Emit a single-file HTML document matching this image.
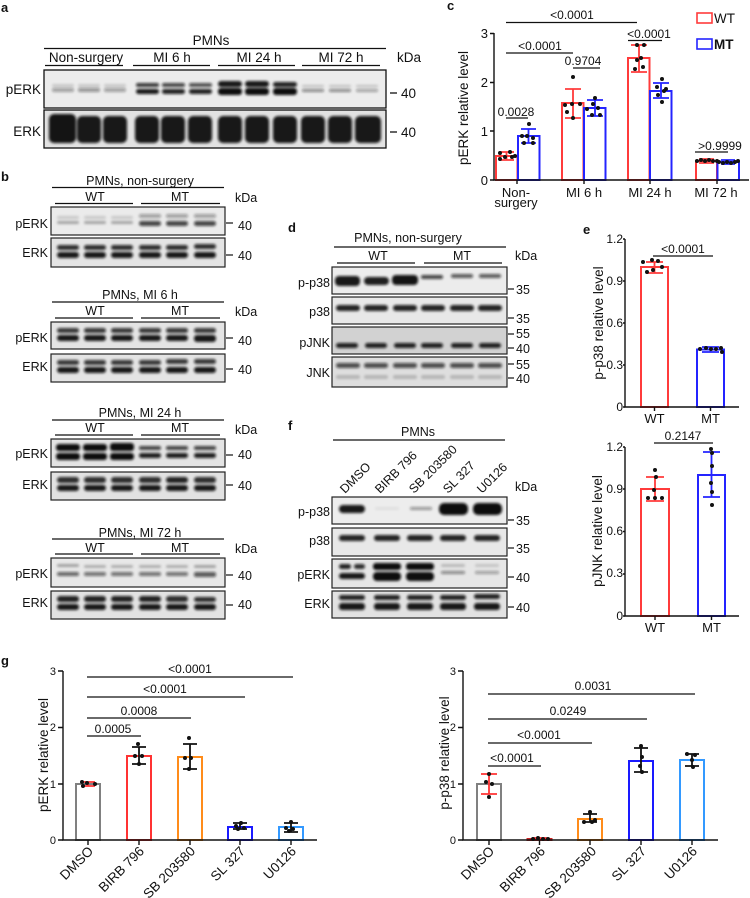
<!DOCTYPE html>
<html><head><meta charset="utf-8"><style>
html,body{margin:0;padding:0;background:#fff;}
svg{display:block;}
text{font-family:"Liberation Sans",Arial,sans-serif;fill:#111;}
</style></head><body>
<svg width="750" height="898" viewBox="0 0 750 898" xmlns="http://www.w3.org/2000/svg">
<defs>
<filter id="b" x="-30%" y="-80%" width="160%" height="260%"><feGaussianBlur stdDeviation="1.2"/></filter>
</defs>

<!-- ================= PANEL A ================= -->
<text x="1" y="12" font-size="13" font-weight="bold">a</text>
<text x="211" y="45" font-size="13.5" text-anchor="middle">PMNs</text>
<line x1="44" y1="48.5" x2="386" y2="48.5" stroke="#111" stroke-width="1.3"/>
<text x="86" y="62" font-size="13.5" text-anchor="middle">Non-surgery</text>
<text x="172" y="62" font-size="13.5" text-anchor="middle">MI 6 h</text>
<text x="259" y="62" font-size="13.5" text-anchor="middle">MI 24 h</text>
<text x="341" y="62" font-size="13.5" text-anchor="middle">MI 72 h</text>
<g stroke="#111" stroke-width="1.2">
<line x1="45" y1="65.5" x2="123" y2="65.5"/><line x1="133" y1="65.5" x2="210" y2="65.5"/>
<line x1="218" y1="65.5" x2="295" y2="65.5"/><line x1="302" y1="65.5" x2="380" y2="65.5"/>
</g>
<text x="397" y="62" font-size="13.5">kDa</text>
<text x="41" y="94" font-size="13.5" text-anchor="end">pERK</text>
<text x="41" y="136" font-size="13.5" text-anchor="end">ERK</text>
<rect x="44" y="70" width="342" height="38" fill="#ececec" stroke="#111" stroke-width="1.3"/>
<rect x="44" y="110" width="342" height="38" fill="#e2e2e2" stroke="#111" stroke-width="1.3"/>
<g fill="#111" filter="url(#b)">
<rect x="52" y="84" width="22" height="3" rx="1.5" opacity=".15"/><rect x="78" y="84" width="22" height="3" rx="1.5" opacity=".15"/><rect x="104" y="84" width="22" height="3" rx="1.5" opacity=".15"/>
<rect x="52" y="88" width="22" height="4" rx="2" opacity=".35"/><rect x="78" y="88" width="22" height="4" rx="2" opacity=".4"/><rect x="104" y="88" width="22" height="4" rx="2" opacity=".35"/>
<rect x="136" y="83" width="23" height="4" rx="2" opacity=".8"/><rect x="162" y="83" width="23" height="4" rx="2" opacity=".75"/><rect x="189" y="83" width="23" height="4" rx="2" opacity=".7"/>
<rect x="136" y="89" width="23" height="5" rx="2.5" opacity=".95"/><rect x="162" y="89" width="23" height="5" rx="2.5" opacity=".9"/><rect x="189" y="89" width="23" height="5" rx="2.5" opacity=".9"/>
<rect x="218" y="81" width="24" height="6" rx="3" opacity=".95"/><rect x="245" y="81" width="24" height="6" rx="3" opacity=".95"/><rect x="273" y="82" width="24" height="5" rx="2.5" opacity=".9"/>
<rect x="218" y="88" width="24" height="7" rx="3" /><rect x="245" y="88" width="24" height="7" rx="3"/><rect x="273" y="88" width="24" height="7" rx="3"/>
<rect x="302" y="85" width="22" height="2" rx="1" opacity=".2"/><rect x="329" y="85" width="22" height="2" rx="1" opacity=".2"/><rect x="356" y="85" width="22" height="2" rx="1" opacity=".2"/>
<rect x="302" y="89" width="22" height="3" rx="1.5" opacity=".45"/><rect x="329" y="89" width="22" height="3" rx="1.5" opacity=".45"/><rect x="356" y="89" width="22" height="3" rx="1.5" opacity=".35"/>
<rect x="49" y="114" width="27" height="29" rx="5" opacity=".97"/><rect x="77" y="116" width="24" height="27" rx="5" opacity=".95"/><rect x="103" y="116" width="24" height="27" rx="5" opacity=".95"/>
<rect x="135" y="116" width="24" height="27" rx="5" opacity=".95"/><rect x="161" y="116" width="24" height="27" rx="5" opacity=".95"/><rect x="188" y="116" width="24" height="27" rx="5" opacity=".95"/>
<rect x="218" y="116" width="24" height="27" rx="5" opacity=".95"/><rect x="245" y="116" width="24" height="27" rx="5" opacity=".95"/><rect x="273" y="116" width="24" height="27" rx="5" opacity=".95"/>
<rect x="301" y="116" width="24" height="27" rx="5" opacity=".95"/><rect x="328" y="116" width="24" height="27" rx="5" opacity=".95"/><rect x="355" y="116" width="26" height="27" rx="5" opacity=".95"/>
</g>
<line x1="390" y1="93" x2="397" y2="93" stroke="#111" stroke-width="1.3"/>
<line x1="390" y1="132" x2="397" y2="132" stroke="#111" stroke-width="1.3"/>
<text x="401" y="98" font-size="13.5">40</text>
<text x="401" y="137" font-size="13.5">40</text>

<!-- ================= PANEL B ================= -->
<text x="1" y="181" font-size="13" font-weight="bold">b</text>
<g font-size="12.5">
<text x="140" y="185" text-anchor="middle">PMNs, non-surgery</text>
<text x="95" y="201" text-anchor="middle">WT</text><text x="180" y="201" text-anchor="middle">MT</text>
<text x="235" y="202">kDa</text>
<text x="48" y="228" text-anchor="end">pERK</text><text x="48" y="257" text-anchor="end">ERK</text>
<text x="238" y="230">40</text><text x="238" y="260">40</text>
<text x="140" y="299" text-anchor="middle">PMNs, MI 6 h</text>
<text x="95" y="315" text-anchor="middle">WT</text><text x="180" y="315" text-anchor="middle">MT</text>
<text x="235" y="316">kDa</text>
<text x="48" y="342" text-anchor="end">pERK</text><text x="48" y="371" text-anchor="end">ERK</text>
<text x="238" y="345">40</text><text x="238" y="374">40</text>
<text x="140" y="417" text-anchor="middle">PMNs, MI 24 h</text>
<text x="95" y="432" text-anchor="middle">WT</text><text x="180" y="432" text-anchor="middle">MT</text>
<text x="235" y="434">kDa</text>
<text x="48" y="458" text-anchor="end">pERK</text><text x="48" y="489" text-anchor="end">ERK</text>
<text x="238" y="459">40</text><text x="238" y="490">40</text>
<text x="140" y="537" text-anchor="middle">PMNs, MI 72 h</text>
<text x="95" y="552" text-anchor="middle">WT</text><text x="180" y="552" text-anchor="middle">MT</text>
<text x="235" y="553">kDa</text>
<text x="48" y="578" text-anchor="end">pERK</text><text x="48" y="607" text-anchor="end">ERK</text>
<text x="238" y="580">40</text><text x="238" y="609">40</text>
</g>
<g stroke="#111" stroke-width="1.2">
<line x1="52" y1="187.5" x2="224" y2="187.5"/><line x1="55" y1="203.5" x2="133" y2="203.5"/><line x1="141" y1="203.5" x2="220" y2="203.5"/>
<line x1="52" y1="302" x2="224" y2="302"/><line x1="55" y1="318" x2="133" y2="318"/><line x1="141" y1="318" x2="220" y2="318"/>
<line x1="52" y1="420" x2="224" y2="420"/><line x1="55" y1="435" x2="133" y2="435"/><line x1="141" y1="435" x2="220" y2="435"/>
<line x1="52" y1="539" x2="224" y2="539"/><line x1="55" y1="554" x2="133" y2="554"/><line x1="141" y1="554" x2="220" y2="554"/>
<line x1="226" y1="223" x2="233" y2="223"/><line x1="226" y1="255" x2="233" y2="255"/>
<line x1="226" y1="338" x2="233" y2="338"/><line x1="226" y1="369" x2="233" y2="369"/>
<line x1="226" y1="455" x2="233" y2="455"/><line x1="226" y1="485" x2="233" y2="485"/>
<line x1="226" y1="575" x2="233" y2="575"/><line x1="226" y1="605" x2="233" y2="605"/>
</g>
<g stroke="#222" stroke-width="1.2">
<rect x="51" y="207" width="174" height="28" fill="#ebebeb"/>
<rect x="51" y="238" width="174" height="29" fill="#e4e4e4"/>
<rect x="51" y="322" width="174" height="27" fill="#e4e4e4"/>
<rect x="51" y="354" width="174" height="28" fill="#e4e4e4"/>
<rect x="51" y="439" width="174" height="28" fill="#e4e4e4"/>
<rect x="51" y="472" width="174" height="28" fill="#e2e2e2"/>
<rect x="51" y="558" width="174" height="29" fill="#e8e8e8"/>
<rect x="51" y="591" width="174" height="28" fill="#e2e2e2"/>
</g>
<g fill="#111" filter="url(#b)">
<rect x="57" y="216" width="22" height="3" rx="1.5" opacity=".15"/><rect x="84" y="216" width="22" height="3" rx="1.5" opacity=".15"/><rect x="111" y="216" width="22" height="3" rx="1.5" opacity=".15"/>
<rect x="57" y="221" width="22" height="3" rx="1.5" opacity=".3"/><rect x="84" y="221" width="22" height="3" rx="1.5" opacity=".3"/><rect x="111" y="221" width="22" height="3" rx="1.5" opacity=".3"/>
<rect x="139" y="214" width="22" height="4" rx="2" opacity=".35"/><rect x="166" y="214" width="22" height="4" rx="2" opacity=".35"/><rect x="194" y="214" width="22" height="4" rx="2" opacity=".35"/>
<rect x="139" y="221" width="22" height="5" rx="2.5" opacity=".75"/><rect x="166" y="221" width="22" height="5" rx="2.5" opacity=".75"/><rect x="194" y="221" width="22" height="5" rx="2.5" opacity=".75"/>
<rect x="57" y="245" width="22" height="5" rx="2.5" opacity=".85"/><rect x="84" y="245" width="22" height="5" rx="2.5" opacity=".85"/><rect x="111" y="245" width="22" height="5" rx="2.5" opacity=".85"/>
<rect x="139" y="245" width="22" height="5" rx="2.5" opacity=".85"/><rect x="166" y="245" width="22" height="5" rx="2.5" opacity=".85"/><rect x="194" y="244" width="22" height="5" rx="2.5" opacity=".85"/>
<rect x="57" y="252" width="22" height="6" rx="3" opacity=".95"/><rect x="84" y="252" width="22" height="6" rx="3" opacity=".95"/><rect x="111" y="252" width="22" height="6" rx="3" opacity=".95"/>
<rect x="139" y="252" width="22" height="6" rx="3" opacity=".95"/><rect x="166" y="252" width="22" height="6" rx="3" opacity=".95"/><rect x="194" y="252" width="22" height="6" rx="3" opacity=".95"/>
<rect x="57" y="328" width="22" height="5" rx="2.5" opacity=".8"/><rect x="84" y="328" width="22" height="5" rx="2.5" opacity=".8"/><rect x="111" y="328" width="22" height="5" rx="2.5" opacity=".8"/>
<rect x="139" y="328" width="22" height="5" rx="2.5" opacity=".8"/><rect x="166" y="328" width="22" height="5" rx="2.5" opacity=".8"/><rect x="194" y="328" width="22" height="5" rx="2.5" opacity=".8"/>
<rect x="57" y="335" width="22" height="6" rx="3" opacity=".95"/><rect x="84" y="335" width="22" height="6" rx="3" opacity=".95"/><rect x="111" y="335" width="22" height="6" rx="3" opacity=".95"/>
<rect x="139" y="335" width="22" height="6" rx="3" opacity=".95"/><rect x="166" y="335" width="22" height="6" rx="3" opacity=".95"/><rect x="194" y="335" width="22" height="7" rx="3" opacity=".95"/>
<rect x="57" y="360" width="22" height="5" rx="2.5" opacity=".8"/><rect x="84" y="360" width="22" height="5" rx="2.5" opacity=".8"/><rect x="111" y="360" width="22" height="5" rx="2.5" opacity=".8"/>
<rect x="139" y="360" width="22" height="5" rx="2.5" opacity=".8"/><rect x="166" y="359" width="22" height="5" rx="2.5" opacity=".8"/><rect x="194" y="359" width="22" height="5" rx="2.5" opacity=".8"/>
<rect x="57" y="367" width="22" height="6" rx="3" opacity=".95"/><rect x="84" y="367" width="22" height="6" rx="3" opacity=".95"/><rect x="111" y="367" width="22" height="6" rx="3" opacity=".95"/>
<rect x="139" y="367" width="22" height="6" rx="3" opacity=".95"/><rect x="166" y="367" width="22" height="6" rx="3" opacity=".95"/><rect x="194" y="367" width="22" height="6" rx="3" opacity=".95"/>
<rect x="56" y="444" width="24" height="7" rx="3" /><rect x="83" y="444" width="24" height="7" rx="3"/><rect x="110" y="443" width="24" height="8" rx="3"/>
<rect x="56" y="453" width="24" height="7" rx="3" /><rect x="83" y="453" width="24" height="7" rx="3"/><rect x="110" y="453" width="24" height="7" rx="3"/>
<rect x="139" y="446" width="22" height="4" rx="2" opacity=".75"/><rect x="166" y="446" width="22" height="4" rx="2" opacity=".75"/><rect x="194" y="446" width="22" height="4" rx="2" opacity=".75"/>
<rect x="139" y="453" width="22" height="5" rx="2.5" opacity=".92"/><rect x="166" y="453" width="22" height="5" rx="2.5" opacity=".92"/><rect x="194" y="453" width="22" height="5" rx="2.5" opacity=".92"/>
<rect x="57" y="477" width="22" height="6" rx="3" opacity=".85"/><rect x="84" y="477" width="22" height="6" rx="3" opacity=".85"/><rect x="111" y="477" width="22" height="6" rx="3" opacity=".85"/>
<rect x="139" y="477" width="22" height="6" rx="3" opacity=".85"/><rect x="166" y="477" width="22" height="6" rx="3" opacity=".9"/><rect x="194" y="477" width="22" height="6" rx="3" opacity=".85"/>
<rect x="57" y="485" width="22" height="6" rx="3" opacity=".95"/><rect x="84" y="485" width="22" height="6" rx="3" opacity=".95"/><rect x="111" y="485" width="22" height="6" rx="3" opacity=".95"/>
<rect x="139" y="485" width="22" height="6" rx="3" opacity=".95"/><rect x="166" y="485" width="22" height="6" rx="3" opacity=".95"/><rect x="194" y="485" width="22" height="6" rx="3" opacity=".95"/>
<rect x="57" y="564" width="22" height="3" rx="1.5" opacity=".3"/><rect x="84" y="565" width="22" height="3" rx="1.5" opacity=".25"/><rect x="111" y="565" width="22" height="3" rx="1.5" opacity=".25"/>
<rect x="139" y="565" width="22" height="3" rx="1.5" opacity=".25"/><rect x="166" y="565" width="22" height="3" rx="1.5" opacity=".25"/><rect x="194" y="565" width="22" height="3" rx="1.5" opacity=".3"/>
<rect x="57" y="572" width="22" height="4" rx="2" opacity=".6"/><rect x="84" y="572" width="22" height="4" rx="2" opacity=".55"/><rect x="111" y="572" width="22" height="4" rx="2" opacity=".55"/>
<rect x="139" y="572" width="22" height="4" rx="2" opacity=".55"/><rect x="166" y="572" width="22" height="4" rx="2" opacity=".55"/><rect x="194" y="572" width="22" height="5" rx="2" opacity=".65"/>
<rect x="57" y="596" width="22" height="6" rx="3" opacity=".9"/><rect x="84" y="596" width="22" height="6" rx="3" opacity=".9"/><rect x="111" y="596" width="22" height="6" rx="3" opacity=".9"/>
<rect x="139" y="596" width="22" height="6" rx="3" opacity=".9"/><rect x="166" y="596" width="22" height="6" rx="3" opacity=".85"/><rect x="194" y="597" width="22" height="5" rx="3" opacity=".85"/>
<rect x="57" y="604" width="22" height="6" rx="3" opacity=".95"/><rect x="84" y="604" width="22" height="6" rx="3" opacity=".95"/><rect x="111" y="604" width="22" height="6" rx="3" opacity=".95"/>
<rect x="139" y="604" width="22" height="6" rx="3" opacity=".95"/><rect x="166" y="604" width="22" height="6" rx="3" opacity=".95"/><rect x="194" y="604" width="22" height="6" rx="3" opacity=".95"/>
</g>

<!-- ================= PANEL D ================= -->
<text x="288" y="232" font-size="13" font-weight="bold">d</text>
<g font-size="12.5">
<text x="408" y="242" text-anchor="middle">PMNs, non-surgery</text>
<text x="378" y="260" text-anchor="middle">WT</text><text x="462" y="260" text-anchor="middle">MT</text>
<text x="515" y="260">kDa</text>
<text x="330" y="287" text-anchor="end">p-p38</text>
<text x="330" y="316" text-anchor="end">p38</text>
<text x="330" y="347" text-anchor="end">pJNK</text>
<text x="330" y="377" text-anchor="end">JNK</text>
<text x="516" y="294">35</text><text x="516" y="323">35</text>
<text x="516" y="338">55</text><text x="516" y="353">40</text>
<text x="516" y="369">55</text><text x="516" y="383">40</text>
</g>
<g stroke="#111" stroke-width="1.2">
<line x1="334" y1="247" x2="506" y2="247"/><line x1="337" y1="263" x2="415" y2="263"/><line x1="424" y1="263" x2="502" y2="263"/>
<line x1="508" y1="289" x2="514" y2="289"/><line x1="508" y1="318" x2="514" y2="318"/>
<line x1="508" y1="334" x2="514" y2="334"/><line x1="508" y1="348" x2="514" y2="348"/>
<line x1="508" y1="364" x2="514" y2="364"/><line x1="508" y1="378" x2="514" y2="378"/>
</g>
<g stroke="#222" stroke-width="1.2">
<rect x="332" y="267" width="175" height="27" fill="#ececec"/>
<rect x="332" y="297" width="175" height="27" fill="#e8e8e8"/>
<rect x="332" y="327" width="175" height="27" fill="#d2d2d2"/>
<rect x="332" y="357" width="175" height="30" fill="#dedede"/>
</g>
<g fill="#111" filter="url(#b)">
<rect x="335" y="276" width="25" height="10" rx="4" opacity=".95"/><rect x="364" y="277" width="25" height="8" rx="4" opacity=".92"/><rect x="392" y="275" width="26" height="10" rx="4" opacity=".97"/>
<rect x="421" y="275" width="22" height="4" rx="2" opacity=".75"/><rect x="451" y="274" width="22" height="4" rx="2" opacity=".65"/><rect x="479" y="274" width="22" height="4" rx="2" opacity=".65"/>
<rect x="336" y="305" width="24" height="6" rx="3" opacity=".9"/><rect x="364" y="305" width="24" height="6" rx="3" opacity=".9"/><rect x="393" y="305" width="24" height="6" rx="3" opacity=".9"/>
<rect x="421" y="305" width="24" height="6" rx="3" opacity=".9"/><rect x="450" y="305" width="24" height="6" rx="3" opacity=".9"/><rect x="478" y="305" width="24" height="6" rx="3" opacity=".9"/>
<rect x="336" y="343" width="22" height="5" rx="2.5" opacity=".9"/><rect x="365" y="343" width="22" height="5" rx="2.5" opacity=".9"/><rect x="394" y="343" width="22" height="5" rx="2.5" opacity=".9"/>
<rect x="421" y="343" width="22" height="5" rx="2.5" opacity=".9"/><rect x="451" y="343" width="22" height="5" rx="2.5" opacity=".9"/><rect x="479" y="343" width="22" height="5" rx="2.5" opacity=".9"/>
<rect x="336" y="363" width="24" height="5" rx="2.5" opacity=".7"/><rect x="364" y="363" width="24" height="5" rx="2.5" opacity=".7"/><rect x="393" y="363" width="24" height="5" rx="2.5" opacity=".7"/>
<rect x="421" y="363" width="24" height="5" rx="2.5" opacity=".7"/><rect x="450" y="363" width="24" height="5" rx="2.5" opacity=".7"/><rect x="478" y="363" width="24" height="5" rx="2.5" opacity=".7"/>
<rect x="336" y="375" width="24" height="4" rx="2" opacity=".18"/><rect x="364" y="375" width="24" height="4" rx="2" opacity=".18"/><rect x="393" y="375" width="24" height="4" rx="2" opacity=".18"/>
<rect x="421" y="375" width="24" height="4" rx="2" opacity=".18"/><rect x="450" y="375" width="24" height="4" rx="2" opacity=".18"/><rect x="478" y="375" width="24" height="4" rx="2" opacity=".18"/>
</g>

<!-- ================= PANEL F ================= -->
<text x="288" y="430" font-size="13" font-weight="bold">f</text>
<g font-size="12.5">
<text x="418" y="436" text-anchor="middle">PMNs</text>
<text transform="translate(345,494) rotate(-45)">DMSO</text>
<text transform="translate(380,494) rotate(-45)">BIRB 796</text>
<text transform="translate(414,494) rotate(-45)">SB 203580</text>
<text transform="translate(448,494) rotate(-45)">SL 327</text>
<text transform="translate(482,494) rotate(-45)">U0126</text>
<text x="515" y="491">kDa</text>
<text x="330" y="516" text-anchor="end">p-p38</text>
<text x="330" y="545" text-anchor="end">p38</text>
<text x="330" y="579" text-anchor="end">pERK</text>
<text x="330" y="608" text-anchor="end">ERK</text>
<text x="516" y="525">35</text><text x="516" y="553">35</text>
<text x="516" y="582">40</text><text x="516" y="612">40</text>
</g>
<g stroke="#111" stroke-width="1.2">
<line x1="333" y1="440" x2="505" y2="440"/>
<line x1="508" y1="520" x2="514" y2="520"/><line x1="508" y1="548" x2="514" y2="548"/>
<line x1="508" y1="577" x2="514" y2="577"/><line x1="508" y1="607" x2="514" y2="607"/>
</g>
<g stroke="#222" stroke-width="1.2">
<rect x="332" y="497" width="175" height="27" fill="#ededed"/>
<rect x="332" y="528" width="175" height="28" fill="#e8e8e8"/>
<rect x="332" y="559" width="175" height="29" fill="#e6e6e6"/>
<rect x="332" y="591" width="175" height="27" fill="#e2e2e2"/>
</g>
<g fill="#111" filter="url(#b)">
<rect x="339" y="505" width="26" height="8" rx="4" opacity=".95"/>
<rect x="375" y="507" width="24" height="3" rx="1.5" opacity=".06"/>
<rect x="410" y="507" width="22" height="3" rx="1.5" opacity=".4"/>
<rect x="439" y="503" width="29" height="12" rx="5"/>
<rect x="473" y="503" width="29" height="12" rx="5"/>
<rect x="339" y="535" width="26" height="6" rx="3" opacity=".9"/><rect x="374" y="535" width="26" height="6" rx="3" opacity=".9"/><rect x="407" y="535" width="26" height="6" rx="3" opacity=".9"/>
<rect x="440" y="535" width="26" height="6" rx="3" opacity=".9"/><rect x="474" y="535" width="26" height="6" rx="3" opacity=".9"/>
<rect x="339" y="564" width="12" height="5" rx="2.5" opacity=".9"/><rect x="354" y="564" width="11" height="5" rx="2.5" opacity=".85"/>
<rect x="339" y="573" width="26" height="6" rx="3" opacity=".95"/>
<rect x="373" y="563" width="28" height="7" rx="3"/><rect x="373" y="572" width="28" height="9" rx="4"/>
<rect x="406" y="563" width="28" height="7" rx="3"/><rect x="406" y="572" width="28" height="9" rx="4"/>
<rect x="441" y="564" width="24" height="3" rx="1.5" opacity=".2"/><rect x="441" y="571" width="24" height="3" rx="1.5" opacity=".45"/>
<rect x="475" y="564" width="24" height="3" rx="1.5" opacity=".15"/><rect x="475" y="571" width="24" height="3" rx="1.5" opacity=".35"/>
<rect x="339" y="595" width="26" height="5" rx="2.5" opacity=".9"/><rect x="374" y="595" width="26" height="5" rx="2.5" opacity=".9"/><rect x="407" y="595" width="26" height="5" rx="2.5" opacity=".9"/>
<rect x="440" y="595" width="26" height="5" rx="2.5" opacity=".9"/><rect x="474" y="594" width="26" height="5" rx="2.5" opacity=".9"/>
<rect x="339" y="603" width="26" height="7" rx="3" opacity=".95"/><rect x="374" y="603" width="26" height="7" rx="3" opacity=".95"/><rect x="407" y="603" width="26" height="7" rx="3" opacity=".95"/>
<rect x="440" y="603" width="26" height="7" rx="3" opacity=".95"/><rect x="474" y="603" width="26" height="7" rx="3" opacity=".95"/>
</g>

<!-- ================= PANEL C ================= -->
<text x="447" y="10" font-size="13" font-weight="bold">c</text>
<g font-size="13">
<text x="488" y="38" text-anchor="end">3</text>
<text x="488" y="87" text-anchor="end">2</text>
<text x="488" y="136" text-anchor="end">1</text>
<text x="488" y="185" text-anchor="end">0</text>
<text x="516" y="197" text-anchor="middle">Non-</text>
<text x="516" y="207" text-anchor="middle">surgery</text>
<text x="584" y="197" text-anchor="middle">MI 6 h</text>
<text x="650" y="197" text-anchor="middle">MI 24 h</text>
<text x="716" y="197" text-anchor="middle">MI 72 h</text>
</g>
<text transform="translate(468,108) rotate(-90)" font-size="13.5" text-anchor="middle">pERK relative level</text>
<g fill="#fff" stroke-width="2">
<rect x="496" y="156" width="21.5" height="24" stroke="#ff3b3b"/>
<rect x="518" y="136" width="21.5" height="44" stroke="#2424ff"/>
<rect x="562" y="103" width="21.5" height="77" stroke="#ff3b3b"/>
<rect x="584" y="108" width="21.5" height="72" stroke="#2424ff"/>
<rect x="628" y="58" width="21.5" height="122" stroke="#ff3b3b"/>
<rect x="650" y="91" width="21.5" height="89" stroke="#2424ff"/>
<rect x="696" y="161" width="21" height="19" stroke="#ff3b3b"/>
<rect x="717.5" y="162" width="21.5" height="18" stroke="#2424ff"/>
</g>
<g stroke-width="1.8" fill="none">
<path d="M506.5 152V160M499 152H514M499 160H514" stroke="#ff3b3b"/>
<path d="M528.5 129V143M521 129H536M521 143H536" stroke="#2424ff"/>
<path d="M573 89V118M565 89H581M565 118H581" stroke="#ff3b3b"/>
<path d="M595 100V116M587 100H603M587 116H603" stroke="#2424ff"/>
<path d="M639 45V72M631 45H647M631 72H647" stroke="#ff3b3b"/>
<path d="M661 83V98M653 83H669M653 98H669" stroke="#2424ff"/>
<path d="M706.5 159V163M699 159H714M699 163H714" stroke="#ff3b3b"/>
<path d="M728 160V164M721 160H735M721 164H735" stroke="#2424ff"/>
</g>
<g fill="#111">
<circle cx="500" cy="153" r="2"/><circle cx="510" cy="152" r="2"/><circle cx="500" cy="159" r="2"/><circle cx="505" cy="157" r="2"/><circle cx="512" cy="157" r="2"/><circle cx="515" cy="156" r="2"/>
<circle cx="529" cy="124" r="2"/><circle cx="522" cy="136" r="2"/><circle cx="527" cy="136" r="2"/><circle cx="533" cy="138" r="2"/><circle cx="524" cy="143" r="2"/><circle cx="533" cy="143" r="2"/>
<circle cx="573" cy="77" r="2"/><circle cx="565" cy="105" r="2"/><circle cx="572" cy="104" r="2"/><circle cx="580" cy="104" r="2"/><circle cx="573" cy="118" r="2"/><circle cx="567" cy="112" r="2"/>
<circle cx="595" cy="98" r="2"/><circle cx="587" cy="109" r="2"/><circle cx="598" cy="108" r="2"/><circle cx="592" cy="115" r="2"/><circle cx="600" cy="115" r="2"/><circle cx="593" cy="104" r="2"/>
<circle cx="637" cy="45" r="2"/><circle cx="644" cy="45" r="2"/><circle cx="637" cy="60" r="2"/><circle cx="641" cy="58" r="2"/><circle cx="643" cy="67" r="2"/><circle cx="635" cy="69" r="2"/>
<circle cx="662" cy="79" r="2"/><circle cx="657" cy="87" r="2"/><circle cx="664" cy="91" r="2"/><circle cx="658" cy="95" r="2"/><circle cx="662" cy="102" r="2"/><circle cx="666" cy="89" r="2"/>
<circle cx="697" cy="161" r="2"/><circle cx="701" cy="160" r="2"/><circle cx="705" cy="161" r="2"/><circle cx="709" cy="160" r="2"/><circle cx="713" cy="161" r="2"/><circle cx="717" cy="161" r="2"/>
<circle cx="719" cy="162" r="2"/><circle cx="723" cy="163" r="2"/><circle cx="727" cy="162" r="2"/><circle cx="731" cy="163" r="2"/><circle cx="735" cy="162" r="2"/><circle cx="738" cy="161" r="2"/>
</g>
<g stroke="#111" stroke-width="1.4" fill="none">
<path d="M494 33V180H749"/>
<path d="M490 33.5H494M490 82.5H494M490 131H494M490 180H494"/>
<path d="M517 180V184M584 180V184M650 180V184M717 180V184"/>
</g>
<g stroke="#111" stroke-width="1.3">
<line x1="506" y1="22.5" x2="637" y2="22.5"/>
<line x1="506" y1="53" x2="573" y2="53"/>
<line x1="573" y1="68" x2="600" y2="68"/>
<line x1="628" y1="40.5" x2="662" y2="40.5"/>
<line x1="506" y1="118" x2="528" y2="118"/>
<line x1="695" y1="152" x2="728" y2="152"/>
</g>
<g font-size="12" text-anchor="middle">
<text x="572" y="19">&lt;0.0001</text>
<text x="540" y="50">&lt;0.0001</text>
<text x="583" y="65">0.9704</text>
<text x="649" y="38">&lt;0.0001</text>
<text x="516" y="116">0.0028</text>
<text x="720" y="150">&gt;0.9999</text>
</g>
<rect x="697" y="13" width="15" height="10" fill="#fff" stroke="#ff3b3b" stroke-width="1.6"/>
<text x="714" y="23" font-size="13.5">WT</text>
<rect x="697" y="39" width="15" height="10" fill="#fff" stroke="#2424ff" stroke-width="1.6"/>
<text x="714" y="49" font-size="13.5" font-weight="bold">MT</text>

<!-- ================= PANEL E ================= -->
<text x="583" y="234" font-size="13" font-weight="bold">e</text>
<g font-size="12" text-anchor="end">
<text x="623" y="243">1.2</text><text x="623" y="285">0.9</text><text x="623" y="327">0.6</text><text x="623" y="369">0.3</text><text x="623" y="411">0</text>
<text x="623" y="451">1.2</text><text x="623" y="493">0.9</text><text x="623" y="535">0.6</text><text x="623" y="577">0.3</text><text x="623" y="620">0</text>
</g>
<g font-size="13" text-anchor="middle">
<text x="654.5" y="423">WT</text><text x="710.5" y="423">MT</text>
<text x="655" y="632">WT</text><text x="711.5" y="632">MT</text>
</g>
<text transform="translate(603,323) rotate(-90)" font-size="13.5" text-anchor="middle">p-p38 relative level</text>
<text transform="translate(602,531) rotate(-90)" font-size="13.5" text-anchor="middle">pJNK relative level</text>
<g fill="#fff" stroke-width="2">
<rect x="641" y="267" width="27" height="140" stroke="#ff3b3b"/>
<rect x="697" y="349.5" width="27" height="57.5" stroke="#2424ff"/>
<rect x="641" y="489" width="28" height="127" stroke="#ff3b3b"/>
<rect x="698" y="475" width="27" height="141" stroke="#2424ff"/>
</g>
<g stroke-width="1.8" fill="none">
<path d="M654.5 262V273M646 262H663M646 273H663" stroke="#ff3b3b"/>
<path d="M710.5 347V352M702 347H719M702 352H719" stroke="#2424ff"/>
<path d="M655 477V501M646 477H664M646 501H664" stroke="#ff3b3b"/>
<path d="M711.5 452V497M703 452H720M703 497H720" stroke="#2424ff"/>
</g>
<g fill="#111">
<circle cx="643" cy="262" r="2"/><circle cx="652" cy="260" r="2"/><circle cx="658" cy="261" r="2"/><circle cx="647" cy="272" r="2"/><circle cx="653" cy="270" r="2"/><circle cx="662" cy="267" r="2"/>
<circle cx="700" cy="349" r="2"/><circle cx="706" cy="348" r="2"/><circle cx="711" cy="349" r="2"/><circle cx="716" cy="349" r="2"/><circle cx="721" cy="348" r="2"/><circle cx="722" cy="352" r="2"/>
<circle cx="655" cy="470" r="2"/><circle cx="656" cy="477" r="2"/><circle cx="654" cy="490" r="2"/><circle cx="648" cy="498" r="2"/><circle cx="655" cy="498" r="2"/><circle cx="662" cy="498" r="2"/>
<circle cx="711" cy="449" r="2"/><circle cx="712" cy="453" r="2"/><circle cx="712" cy="466" r="2"/><circle cx="711" cy="483" r="2"/><circle cx="712" cy="492" r="2"/><circle cx="712" cy="505" r="2"/>
</g>
<g stroke="#111" stroke-width="1.4" fill="none">
<path d="M625 239V407H739"/>
<path d="M623 239H625M623 281H625M623 323H625M623 365H625M623 407H625"/>
<path d="M654.5 407V411M710.5 407V411"/>
<path d="M625 447V616H739"/>
<path d="M623 447H625M623 489H625M623 531.5H625M623 574H625M623 616H625"/>
<path d="M655 616V620M711.5 616V620"/>
</g>
<g stroke="#111" stroke-width="1.3">
<line x1="653" y1="256" x2="713" y2="256"/>
<line x1="654" y1="443" x2="713" y2="443"/>
</g>
<text x="683" y="253" font-size="12" text-anchor="middle">&lt;0.0001</text>
<text x="683" y="440" font-size="12" text-anchor="middle">0.2147</text>

<!-- ================= PANEL G ================= -->
<text x="1" y="665" font-size="13" font-weight="bold">g</text>
<g font-size="11" text-anchor="end">
<text x="56" y="675">3</text><text x="56" y="731">2</text><text x="56" y="788">1</text><text x="56" y="844">0</text>
<text x="456" y="675">3</text><text x="456" y="731">2</text><text x="456" y="788">1</text><text x="456" y="844">0</text>
</g>
<text transform="translate(48,755) rotate(-90)" font-size="13.5" text-anchor="middle">pERK relative level</text>
<text transform="translate(449,753) rotate(-90)" font-size="13.5" text-anchor="middle">p-p38 relative level</text>
<g font-size="13.5" text-anchor="end">
<text transform="translate(94,852) rotate(-45)">DMSO</text>
<text transform="translate(145,852) rotate(-45)">BIRB 796</text>
<text transform="translate(196,852) rotate(-45)">SB 203580</text>
<text transform="translate(246,852) rotate(-45)">SL 327</text>
<text transform="translate(297,852) rotate(-45)">U0126</text>
<text transform="translate(495,852) rotate(-45)">DMSO</text>
<text transform="translate(546,852) rotate(-45)">BIRB 796</text>
<text transform="translate(597,852) rotate(-45)">SB 203580</text>
<text transform="translate(647,852) rotate(-45)">SL 327</text>
<text transform="translate(698,852) rotate(-45)">U0126</text>
</g>
<g fill="#fff" stroke-width="2">
<rect x="76" y="784" width="24" height="56" stroke="#808080"/>
<rect x="127" y="756" width="24" height="84" stroke="#ff3333"/>
<rect x="178" y="757" width="24" height="83" stroke="#ff8c1a"/>
<rect x="228" y="827" width="24" height="13" stroke="#1a1aff"/>
<rect x="279" y="827" width="24" height="13" stroke="#3399ff"/>
<rect x="477" y="784" width="24" height="56" stroke="#808080"/>
<rect x="527.5" y="839" width="24" height="1" stroke="#cc2222"/>
<rect x="578" y="819" width="24" height="21" stroke="#ff8c1a"/>
<rect x="629" y="761" width="24" height="79" stroke="#1a1aff"/>
<rect x="680" y="760" width="24" height="80" stroke="#3399ff"/>
</g>
<g stroke-width="1.8" fill="none">
<path d="M88 782V786M81 782H95M81 786H95" stroke="#ff3333"/>
<path d="M139 747V764M132 747H146M132 764H146" stroke="#111"/>
<path d="M190 744V769M183 744H197M183 769H197" stroke="#111"/>
<path d="M240 823V829M233 823H247M233 829H247" stroke="#111"/>
<path d="M291 823V832M284 823H298M284 832H298" stroke="#111"/>
<path d="M489 774V794M481 774H497M481 794H497" stroke="#ff3333"/>
<path d="M539.5 838V840M532 838H547" stroke="#ff3333"/>
<path d="M590 814V822M583 814H597M583 822H597" stroke="#111"/>
<path d="M641 748V772M634 748H648M634 772H648" stroke="#111"/>
<path d="M692 754V766M685 754H699M685 766H699" stroke="#111"/>
</g>
<g fill="#111">
<circle cx="82" cy="782" r="2"/><circle cx="87" cy="783" r="2"/><circle cx="95" cy="784" r="2"/><circle cx="83" cy="786" r="2"/>
<circle cx="138" cy="744" r="2"/><circle cx="135" cy="756" r="2"/><circle cx="142" cy="756" r="2"/><circle cx="139" cy="764" r="2"/>
<circle cx="189" cy="738" r="2"/><circle cx="185" cy="758" r="2"/><circle cx="191" cy="758" r="2"/><circle cx="189" cy="769" r="2"/>
<circle cx="236" cy="826" r="2"/><circle cx="241" cy="823" r="2"/><circle cx="244" cy="828" r="2"/><circle cx="238" cy="829" r="2"/>
<circle cx="291" cy="822" r="2"/><circle cx="286" cy="828" r="2"/><circle cx="293" cy="829" r="2"/><circle cx="289" cy="831" r="2"/>
<circle cx="489" cy="774" r="2"/><circle cx="486" cy="782" r="2"/><circle cx="492" cy="784" r="2"/><circle cx="489" cy="797" r="2"/>
<circle cx="533" cy="839" r="2"/><circle cx="538" cy="838" r="2"/><circle cx="543" cy="839" r="2"/><circle cx="548" cy="839" r="2"/>
<circle cx="590" cy="812" r="2"/><circle cx="584" cy="822" r="2"/><circle cx="592" cy="822" r="2"/><circle cx="595" cy="820" r="2"/>
<circle cx="641" cy="746" r="2"/><circle cx="642" cy="757" r="2"/><circle cx="640" cy="766" r="2"/><circle cx="642" cy="772" r="2"/>
<circle cx="687" cy="754" r="2"/><circle cx="695" cy="755" r="2"/><circle cx="692" cy="760" r="2"/><circle cx="693" cy="767" r="2"/>
</g>
<g stroke="#111" stroke-width="1.4" fill="none">
<path d="M63 671V840H317"/>
<path d="M58 671H63M58 727.5H63M58 784H63M58 840H63"/>
<path d="M88 840V845M139 840V845M190 840V845M240 840V845M291 840V845"/>
<path d="M463 671V840H718"/>
<path d="M458 671H463M458 727.5H463M458 784H463M458 840H463"/>
<path d="M489 840V845M539.5 840V845M590 840V845M641 840V845M692 840V845"/>
</g>
<g stroke="#111" stroke-width="1.3">
<line x1="87" y1="677" x2="293" y2="677"/>
<line x1="87" y1="697" x2="245" y2="697"/>
<line x1="87" y1="718" x2="191" y2="718"/>
<line x1="87" y1="736" x2="141" y2="736"/>
<line x1="488" y1="694" x2="695" y2="694"/>
<line x1="488" y1="719" x2="647" y2="719"/>
<line x1="488" y1="743" x2="592" y2="743"/>
<line x1="488" y1="766" x2="541" y2="766"/>
</g>
<g font-size="12" text-anchor="middle">
<text x="190" y="673">&lt;0.0001</text>
<text x="165" y="693">&lt;0.0001</text>
<text x="139" y="715">0.0008</text>
<text x="113" y="733">0.0005</text>
<text x="593" y="690">0.0031</text>
<text x="568" y="715">0.0249</text>
<text x="539" y="739">&lt;0.0001</text>
<text x="512" y="762">&lt;0.0001</text>
</g>
</svg>
</body></html>
